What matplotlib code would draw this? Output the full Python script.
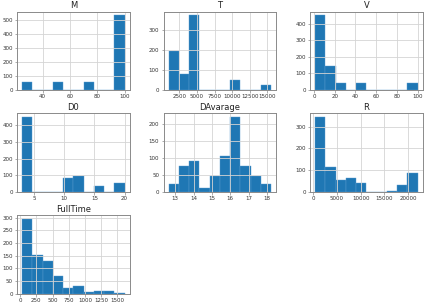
import numpy as np
import matplotlib
matplotlib.use("Agg")
import matplotlib.pyplot as plt
from matplotlib.ticker import MultipleLocator

# Histogram data: per column, value range and counts per bin (10 bins)
columns = ["M", "T", "V", "D0", "DAvarage", "R", "FullTime"]

M_range = (25, 100)
M_counts = [60, 0, 0, 60, 0, 0, 60, 0, 0, 536]

T_range = (980, 15510)
T_counts = [193, 81, 371, 0, 0, 0, 49, 0, 0, 23]

V_range = (1, 100)
V_counts = [450, 143, 40, 0, 40, 0, 0, 0, 0, 40]

D0_range = (3, 20)
D0_counts = [450, 0, 0, 0, 82, 98, 0, 33, 0, 52]

DAvarage_range = (12.64, 18.22)
DAvarage_counts = [23, 77, 91, 11, 47, 107, 221, 76, 47, 23]

R_range = (380, 21980)
R_counts = [343, 115, 54, 63, 41, 0, 0, 3, 32, 84]

FullTime_range = (32, 1609)
FullTime_counts = [295, 151, 130, 68, 21, 30, 7, 9, 8, 2]

data = {
    "M": (M_range, M_counts),
    "T": (T_range, T_counts),
    "V": (V_range, V_counts),
    "D0": (D0_range, D0_counts),
    "DAvarage": (DAvarage_range, DAvarage_counts),
    "R": (R_range, R_counts),
    "FullTime": (FullTime_range, FullTime_counts),
}

# tick steps (styling)
xsteps = {"M": 20, "T": 2500, "V": 20, "D0": 5, "DAvarage": 1, "R": 5000, "FullTime": 250}
ysteps = {"M": 100, "T": 100, "V": 100, "D0": 100, "DAvarage": 50, "R": 100, "FullTime": 50}

fig, axes = plt.subplots(3, 3, figsize=(4.26, 3.07), dpi=100)
fig.subplots_adjust(left=17/426, right=422.7/426, top=1-11.7/307, bottom=1-293.5/307,
                    wspace=0.3, hspace=0.3)

spine_col = "#8a8a8a"
for i, ax in enumerate(axes.flat):
    if i >= len(columns):
        ax.set_visible(False)
        continue
    name = columns[i]
    (lo, hi), counts = data[name]
    edges = np.linspace(lo, hi, len(counts) + 1)
    centers = (edges[:-1] + edges[1:]) / 2
    ax.hist(centers, bins=edges, weights=counts, color="#1f77b4",
            edgecolor="#5b9bd0", linewidth=0.3)
    ax.set_title(name, fontsize=6, pad=2.5, color="#222222")
    ax.grid(True, color="#d4d4d4", linewidth=0.6)
    ax.xaxis.set_major_locator(MultipleLocator(xsteps[name]))
    ax.yaxis.set_major_locator(MultipleLocator(ysteps[name]))
    ax.tick_params(labelsize=4.0, length=1.8, width=0.5, pad=1.2, colors="#333333")
    ax.tick_params(axis="both", color=spine_col)
    for s in ax.spines.values():
        s.set_color(spine_col)
        s.set_linewidth(0.7)

fig.savefig("out.png", dpi=100)
